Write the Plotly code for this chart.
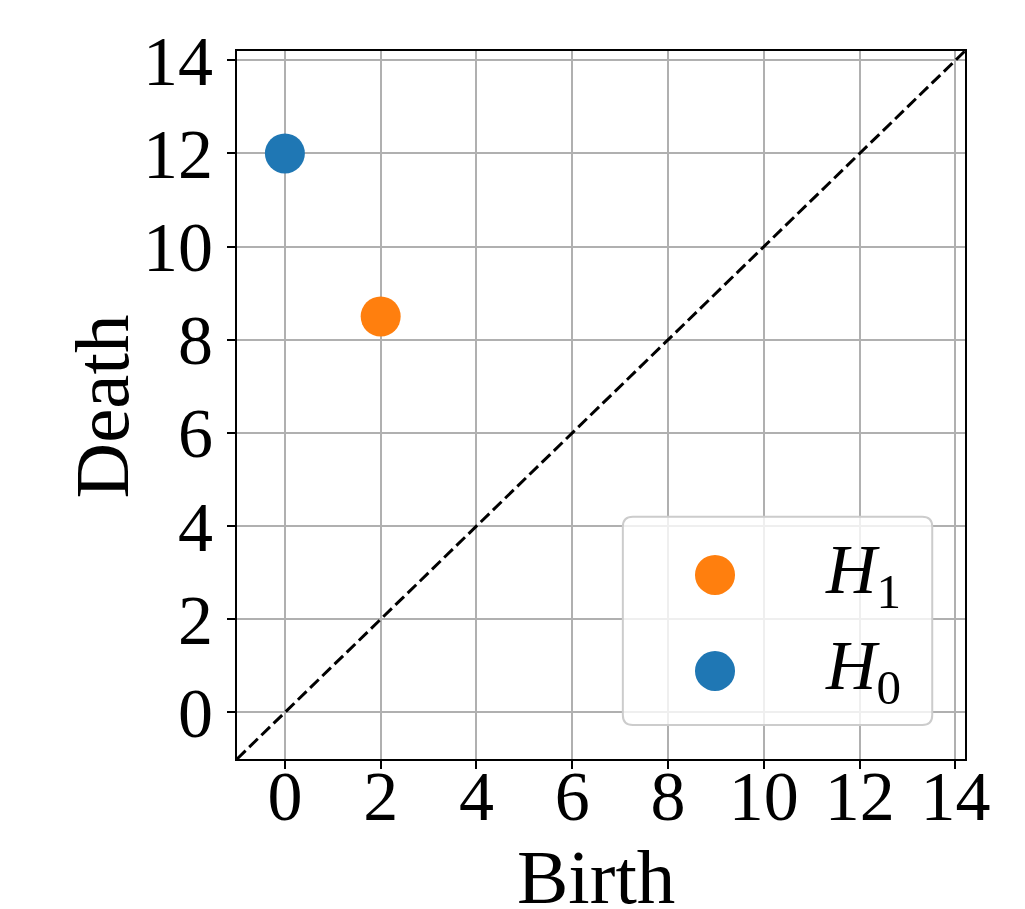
import plotly.graph_objects as go

# Data
h0_birth = [0]
h0_death = [12]
h1_birth = [2]
h1_death = [8.5]
axis_lo, axis_hi = -1.0, 14.2
tick_vals = [0, 2, 4, 6, 8, 10, 12, 14]
tick_text = [str(v) for v in tick_vals]
series_names = ["<i>H</i><sub>1</sub>", "<i>H</i><sub>0</sub>"]
x_title, y_title = "Birth", "Death"
colors = {"H0": "#1f77b4", "H1": "#ff7f0e"}

FONT = "Liberation Serif"
FS = 70
TFS = 77

fig = go.Figure()
fig.add_trace(go.Scatter(x=h0_birth, y=h0_death, mode="markers",
                         marker=dict(size=40, color=colors["H0"], line=dict(width=0)),
                         showlegend=False))
fig.add_trace(go.Scatter(x=h1_birth, y=h1_death, mode="markers",
                         marker=dict(size=40, color=colors["H1"], line=dict(width=0)),
                         showlegend=False))
fig.add_trace(go.Scatter(x=[axis_lo, axis_hi], y=[axis_lo, axis_hi], mode="lines",
                         line=dict(color="black", width=3, dash="12px,5px"),
                         showlegend=False, cliponaxis=True))

axis_common = dict(
    range=[axis_lo, axis_hi], tickvals=tick_vals, ticktext=tick_text,
    showgrid=True, gridcolor="#b0b0b0", gridwidth=1.5, zeroline=False,
    showline=True, linecolor="black", linewidth=2, mirror=True,
    ticks="outside", ticklen=8, tickwidth=2, tickcolor="black",
    tickfont=dict(family=FONT, size=FS, color="black"),
)

fig.update_layout(
    width=1025, height=909,
    margin=dict(l=229, r=68, t=43, b=158, autoexpand=False),
    paper_bgcolor="white", plot_bgcolor="white",
    showlegend=False,
    xaxis=dict(**axis_common, ticklabelstandoff=-33),
    yaxis=dict(**axis_common),
)

# Axis titles
fig.add_annotation(text=x_title, xref="paper", yref="paper", x=0.493, y=-0.1667,
                   xanchor="center", yanchor="middle", showarrow=False,
                   font=dict(family=FONT, size=TFS, color="black"))
fig.add_annotation(text=y_title, xref="paper", yref="paper", x=-0.1848, y=0.4986,
                   xanchor="center", yanchor="middle", showarrow=False, textangle=-90,
                   font=dict(family=FONT, size=TFS, color="black"))

# Legend (manual, matplotlib-like rounded frame)
x0, x1, y0, y1 = 0.530, 0.955, 0.048, 0.342
rx, ry = 0.0137, 0.0141
path = (f"M {x0+rx},{y0} L {x1-rx},{y0} Q {x1},{y0} {x1},{y0+ry} "
        f"L {x1},{y1-ry} Q {x1},{y1} {x1-rx},{y1} L {x0+rx},{y1} "
        f"Q {x0},{y1} {x0},{y1-ry} L {x0},{y0+ry} Q {x0},{y0} {x0+rx},{y0} Z")
fig.add_shape(type="path", path=path, xref="paper", yref="paper",
              fillcolor="rgba(255,255,255,0.8)", line=dict(color="#cccccc", width=2), layer="above")
leg_y = [0.2599, 0.1243]
leg_colors = [colors["H1"], colors["H0"]]
mx, mr_x, mr_y = 0.6566, 0.0275, 0.0282
for yy, cc, name in zip(leg_y, leg_colors, series_names):
    fig.add_shape(type="circle", xref="paper", yref="paper",
                  x0=mx - mr_x, x1=mx + mr_x, y0=yy - mr_y, y1=yy + mr_y,
                  fillcolor=cc, line=dict(width=0), layer="above")
    fig.add_annotation(text=name, xref="paper", yref="paper", x=0.915, y=yy,
                       xanchor="right", yanchor="middle", showarrow=False,
                       font=dict(family=FONT, size=FS, color="black"))

fig.write_html("out.html")
